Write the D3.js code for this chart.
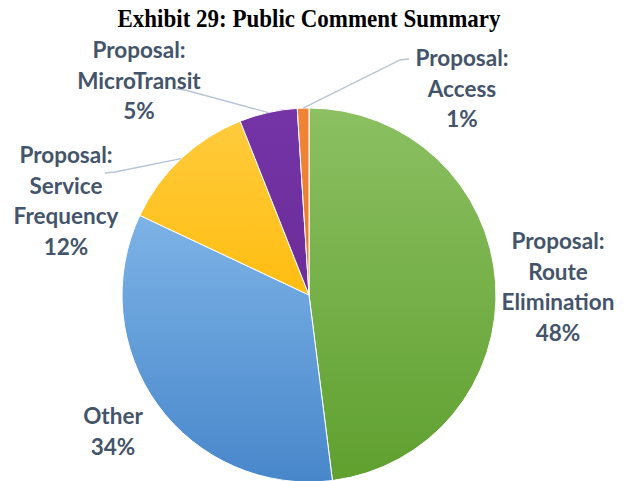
<!DOCTYPE html>
<html>
<head>
<meta charset="utf-8">
<script src="https://cdn.jsdelivr.net/npm/d3@7"></script>
<style>
  body { margin: 0; background: #fff; }
  svg { display: block; }
</style>
</head>
<body>
<div class="chart"></div>
<script>
const width = 625;
const height = 481;

// data, in Excel draw order (clockwise from 12 o'clock)
const categories = ['Proposal: Route Elimination', 'Other', 'Proposal: Service Frequency',
                    'Proposal: MicroTransit', 'Proposal: Access'];
const shares = [48, 34, 12, 5, 1];
const labelLines = [
  ['Proposal:', 'Route', 'Elimination', '48%'],
  ['Other', '34%'],
  ['Proposal:', 'Service', 'Frequency', '12%'],
  ['Proposal:', 'MicroTransit', '5%'],
  ['Proposal:', 'Access', '1%']
];

const colorsTop = ['#8cc062', '#7db3e6', '#ffcb3c', '#7434a6', '#f08436'];
const colorsBottom = ['#5fa02f', '#4887cb', '#ffbd10', '#6c2d9a', '#e97a2e'];

// label placement (centre x, first baseline y) and leader line bends
const labelPos = [
  {x: 558, y: 249},
  {x: 113, y: 424},
  {x: 66, y: 163},
  {x: 139, y: 58},
  {x: 462, y: 66}
];
const leaderPts = [null, null, [[115, 172], [105, 173]], [[185, 90], [176, 89]], [[400, 60], [409, 59]]];

const cx = 309, cy = 295, r = 187;
const lineH = 30.5;

const svg = d3.select('.chart').append('svg')
    .attr('width', width)
    .attr('height', height);

svg.append('text')
    .attr('x', 309)
    .attr('y', 27)
    .attr('text-anchor', 'middle')
    .attr('textLength', 383)
    .attr('lengthAdjust', 'spacingAndGlyphs')
    .style('font-family', '"Liberation Serif", "Times New Roman", serif')
    .style('font-weight', 'bold')
    .style('font-size', '25px')
    .style('fill', '#000')
    .text('Exhibit 29: Public Comment Summary');

const defs = svg.append('defs');
categories.forEach((c, i) => {
  const g = defs.append('linearGradient')
      .attr('id', `grad${i}`)
      .attr('x1', 0).attr('y1', 0).attr('x2', 0).attr('y2', 1);
  g.append('stop').attr('offset', '0%').attr('stop-color', colorsTop[i]);
  g.append('stop').attr('offset', '100%').attr('stop-color', colorsBottom[i]);
});

const pie = d3.pie().sort(null).value(d => d);
const arcs = pie(shares);
const arc = d3.arc().innerRadius(0).outerRadius(r);
const edgeArc = d3.arc().innerRadius(r).outerRadius(r);

const g = svg.append('g')
    .attr('transform', `translate(${cx}, ${cy})`);

g.selectAll('.slice')
  .data(arcs)
  .enter().append('path')
    .attr('class', 'slice')
    .attr('d', arc)
    .style('fill', (d, i) => `url(#grad${i})`)
    .style('stroke', '#fff')
    .style('stroke-width', 1);

// leader lines
arcs.forEach((d, i) => {
  if (!leaderPts[i]) return;
  const p = edgeArc.centroid(d);
  const pts = [[cx + p[0], cy + p[1]]].concat(leaderPts[i]);
  svg.append('path')
      .attr('d', d3.line()(pts))
      .style('fill', 'none')
      .style('stroke', '#b4c4d6')
      .style('stroke-width', 1.3);
});

labelLines.forEach((lines, i) => {
  const t = svg.append('text')
      .attr('text-anchor', 'middle')
      .style('font-family', 'Lato, "Open Sans", sans-serif')
      .style('font-weight', 'bold')
      .style('font-size', '22.5px')
      .style('fill', '#44546a');
  lines.forEach((s, k) => {
    t.append('tspan')
        .attr('x', labelPos[i].x)
        .attr('y', labelPos[i].y + k * lineH)
        .text(s);
  });
});
</script>
</body>
</html>
